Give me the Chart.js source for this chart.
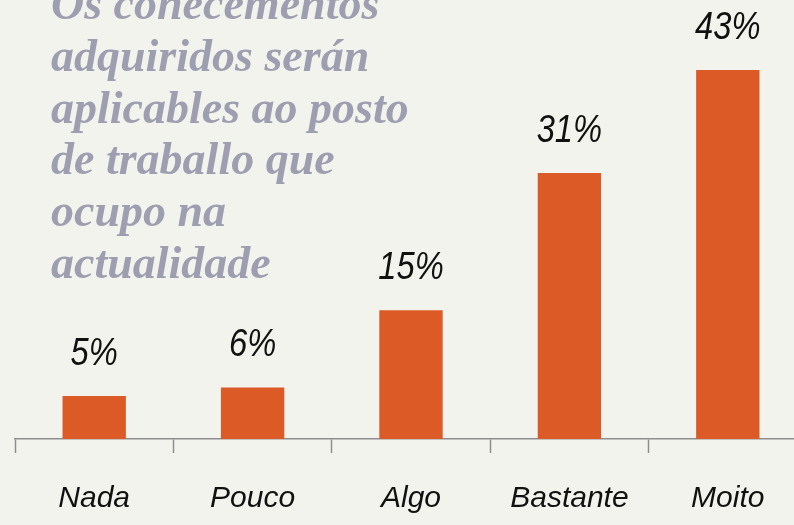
<!DOCTYPE html>
<html>
<head>
<meta charset="utf-8">
<script src="https://cdn.jsdelivr.net/npm/chart.js@4/dist/chart.umd.min.js"></script>
<style>
  html, body { margin: 0; padding: 0; background: #f3f3ee; overflow: hidden; }
  #wrap { position: relative; width: 808px; height: 525px; }
  #title {
    position: absolute; left: 51px; top: -22px;
    font-family: "Liberation Serif", serif; font-weight: bold; font-style: italic;
    font-size: 46px; line-height: 51.8px; color: #9d9eb0; white-space: pre;
    pointer-events: none;
  }
</style>
</head>
<body>
<div id="wrap">
  <canvas id="chart" width="808" height="525"></canvas>
  <div id="title">Os conecementos
adquiridos serán
aplicables ao posto
de traballo que
ocupo na
actualidade</div>
</div>
<script>
const categories = ["Nada", "Pouco", "Algo", "Bastante", "Moito"];
const percentages = [5, 6, 15, 31, 43];

const handFont = '"Liberation Sans Narrow", "Liberation Sans", sans-serif';

// Percentage labels above each bar, drawn slightly condensed
const valueLabels = {
  id: 'valueLabels',
  afterDatasetsDraw(chart) {
    const ctx = chart.ctx;
    const meta = chart.getDatasetMeta(0);
    ctx.save();
    ctx.font = 'italic 38px ' + handFont;
    ctx.fillStyle = '#111111';
    ctx.textAlign = 'center';
    ctx.textBaseline = 'middle';
    meta.data.forEach((bar, i) => {
      ctx.save();
      ctx.translate(bar.x, bar.y - 42);
      ctx.scale(0.86, 1);
      ctx.fillText(percentages[i] + '%', 0, 0);
      ctx.restore();
    });
    ctx.restore();
  }
};

new Chart(document.getElementById('chart'), {
  type: 'bar',
  data: {
    labels: categories,
    datasets: [{
      data: percentages,
      backgroundColor: '#dc5a26',
      borderWidth: 0,
      barPercentage: 0.8,
      categoryPercentage: 0.5
    }]
  },
  options: {
    responsive: false,
    animation: false,
    layout: { padding: { left: 15, right: 1, top: 10, bottom: 0 } },
    plugins: { legend: { display: false }, tooltip: { enabled: false } },
    scales: {
      y: { display: false, min: 0, max: 50 },
      x: {
        offset: true,
        grid: {
          offset: true,
          drawOnChartArea: false,
          drawTicks: true,
          tickLength: 14,
          tickWidth: 1.5,
          tickColor: '#8e8e8e'
        },
        border: { display: true, color: '#8e8e8e', width: 1.5 },
        ticks: {
          color: '#111111',
          font: { family: handFont, size: 30, style: 'italic' },
          padding: 28,
          maxRotation: 0
        },
        afterFit(scale) { scale.height = 86; }
      }
    }
  },
  plugins: [valueLabels]
});
</script>
</body>
</html>
